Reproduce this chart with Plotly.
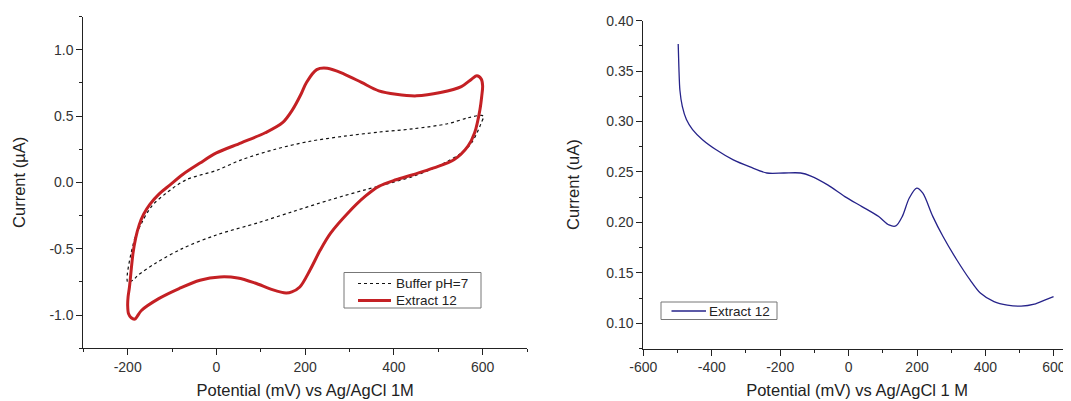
import plotly.graph_objects as go

# ---- Left panel: cyclic voltammograms ----
cv_extract_E = [-196, -188, -182, -174, -164, -150, -130, -105, -76, -37, 0, 56, 110, 149, 172, 190, 203, 226,
                250, 288, 327, 366, 405, 451, 505, 552, 575, 587, 597, 600, 598, 594, 582, 567, 536, 490, 443,
                405, 366, 335, 296, 257, 234, 211, 188, 170, 157, 126, 87, 48, 8, -37, -84, -130, -169, -184,
                -192, -198, -200, -199, -196]
cv_extract_I = [-0.79, -0.535, -0.42, -0.32, -0.24, -0.165, -0.09, -0.02, 0.06, 0.146, 0.222, 0.298, 0.374,
                0.45, 0.55, 0.66, 0.753, 0.85, 0.86, 0.816, 0.753, 0.69, 0.664, 0.652, 0.677, 0.722, 0.778,
                0.803, 0.778, 0.727, 0.65, 0.55, 0.374, 0.273, 0.172, 0.109, 0.058, 0.02, -0.03, -0.106, -0.232,
                -0.384, -0.51, -0.66, -0.788, -0.825, -0.833, -0.808, -0.758, -0.72, -0.712, -0.737, -0.80,
                -0.876, -0.965, -1.03, -1.02, -0.99, -0.927, -0.86, -0.79]

cv_buffer_E = [-200, -185, -169, -146, -115, -68, 0, 56, 133, 211, 288, 366, 443, 521, 567, 598, 602, 597, 591,
               575, 552, 521, 482, 443, 397, 335, 257, 172, 95, 0, -76, -138, -177, -188, -200]
cv_buffer_I = [-0.75, -0.434, -0.31, -0.18, -0.086, 0.02, 0.09, 0.17, 0.25, 0.31, 0.348, 0.379, 0.404, 0.442,
               0.487, 0.505, 0.495, 0.45, 0.40, 0.298, 0.222, 0.159, 0.096, 0.045, 0.0, -0.056, -0.131, -0.22,
               -0.303, -0.396, -0.497, -0.611, -0.70, -0.737, -0.75]

# ---- Right panel: differential pulse voltammogram ----
dpv_E = [-498, -496, -493, -486, -474, -456, -427, -387, -337, -288, -239, -189, -140, -110, -60, -11, 39, 88,
         118, 138, 157, 177, 199, 217, 246, 276, 316, 355, 385, 425, 464, 504, 543, 573, 599]
dpv_I = [0.377, 0.354, 0.331, 0.315, 0.302, 0.292, 0.282, 0.272, 0.262, 0.255, 0.249, 0.249, 0.249, 0.246,
         0.237, 0.2256, 0.2157, 0.2058, 0.1975, 0.1965, 0.206, 0.224, 0.234, 0.229, 0.206, 0.186, 0.163, 0.143,
         0.130, 0.1215, 0.118, 0.117, 0.119, 0.123, 0.1264]

# tick labels (plain hyphen minus, as in the reference)
cv_xticks = [-200, 0, 200, 400, 600]
cv_yticks = [-1.0, -0.5, 0.0, 0.5, 1.0]
dpv_xticks = [-600, -400, -200, 0, 200, 400, 600]
dpv_yticks = [0.10, 0.15, 0.20, 0.25, 0.30, 0.35, 0.40]

# the page body keeps its default 8px margin, so the figure is offset by 8px
OFF = 8
W, H = 1071 - OFF, 401 - OFF
FONT = "Liberation Sans, Arial, sans-serif"
AX = "#222222"
TICKC = "#333333"
RED = "#c42024"
BLUE = "#26238a"


def px(x):
    return (x - OFF) / W


def py(y):
    return 1 - (y - OFF) / H


fig = go.Figure()
fig.add_trace(go.Scatter(x=cv_buffer_E, y=cv_buffer_I, mode="lines", name="Buffer pH=7",
                         line=dict(color="#111111", width=1.2, dash="dot", shape="spline", smoothing=0.9),
                         xaxis="x", yaxis="y", showlegend=False))
fig.add_trace(go.Scatter(x=cv_extract_E, y=cv_extract_I, mode="lines", name="Extract 12",
                         line=dict(color=RED, width=3, shape="spline", smoothing=0.9),
                         xaxis="x", yaxis="y", showlegend=False))
fig.add_trace(go.Scatter(x=dpv_E, y=dpv_I, mode="lines", name="Extract 12",
                         line=dict(color=BLUE, width=1.3, shape="spline", smoothing=0.8),
                         xaxis="x2", yaxis="y2", showlegend=False))


def axis_common():
    return dict(showline=True, linecolor=AX, linewidth=1, ticks="outside", ticklen=6, tickwidth=1,
                tickcolor=AX, showgrid=False, zeroline=False, mirror=False, automargin=False,
                tickfont=dict(family=FONT, size=14, color=TICKC))


def fmt(vals, nd):
    return [f"{v:.{nd}f}" for v in vals]


fig.update_layout(
    template="none",
    width=W, height=H, margin=dict(l=0, r=0, t=0, b=0, autoexpand=False),
    paper_bgcolor="white", plot_bgcolor="white",
    font=dict(family=FONT, color=AX),
    showlegend=False,
    xaxis=dict(**axis_common(), domain=[px(83.3), px(527)], range=[-300, 700],
               tickmode="array", tickvals=cv_xticks, ticktext=fmt(cv_xticks, 0),
               minor=dict(tickmode="linear", tick0=-300, dtick=100, ticklen=3, tickcolor=AX, ticks="outside"),
               title=dict(text="Potential (mV) vs Ag/AgCl 1M", font=dict(family=FONT, size=16.5, color=AX),
                          standoff=10)),
    yaxis=dict(**axis_common(), domain=[py(348.3), py(16.5)], range=[-1.25, 1.25],
               tickmode="array", tickvals=cv_yticks, ticktext=fmt(cv_yticks, 1),
               minor=dict(tickmode="linear", tick0=0, dtick=0.25, ticklen=3, tickcolor=AX, ticks="outside"),
               title=dict(text="Current (µA)", font=dict(family=FONT, size=16.5, color=AX), standoff=19)),
    xaxis2=dict(**axis_common(), domain=[px(643.3), 1.0], range=[-600, 650],
                tickmode="array", tickvals=dpv_xticks, ticktext=fmt(dpv_xticks, 0),
                minor=dict(tickmode="linear", tick0=-500, dtick=100, ticklen=3, tickcolor=AX, ticks="outside"),
                anchor="y2",
                title=dict(text="Potential (mV) vs Ag/AgCl 1 M", font=dict(family=FONT, size=16.5, color=AX),
                           standoff=10)),
    yaxis2=dict(**axis_common(), domain=[py(348.5), py(20.7)], range=[0.075, 0.40],
                tickmode="array", tickvals=dpv_yticks, ticktext=fmt(dpv_yticks, 2), anchor="x2",
                minor=dict(tickmode="linear", tick0=0.025, dtick=0.05, ticklen=3, tickcolor=AX, ticks="outside"),
                title=dict(text="Current (uA)", font=dict(family=FONT, size=16.5, color=AX), standoff=22)),
)

# ---- legend boxes (drawn in paper coordinates) ----
LEG_FONT = dict(family=FONT, size=13.5, color=AX)
legends = [
    # box (x0, y0, x1, y1) in page pixels, then entries: (label, color, width, dash, key y)
    dict(box=(344, 272.5, 481, 308),
         keys=(358, 391), text_x=395,
         entries=[("Buffer pH=7", "#111111", 1.2, "dot", 283.5),
                  ("Extract 12", RED, 3, "solid", 300.5)]),
    dict(box=(661, 302, 777, 319.5),
         keys=(671.5, 706), text_x=707.5,
         entries=[("Extract 12", BLUE, 1.3, "solid", 311)]),
]
for lg in legends:
    x0, y0, x1, y1 = lg["box"]
    fig.add_shape(type="rect", xref="paper", yref="paper", x0=px(x0), x1=px(x1), y0=py(y1), y1=py(y0),
                  line=dict(color="#777777", width=1), fillcolor="white", layer="above")
    for label, color, width, dash, ky in lg["entries"]:
        fig.add_shape(type="line", xref="paper", yref="paper", x0=px(lg["keys"][0]), x1=px(lg["keys"][1]),
                      y0=py(ky), y1=py(ky), line=dict(color=color, width=width, dash=dash), layer="above")
        fig.add_annotation(xref="paper", yref="paper", x=px(lg["text_x"]), y=py(ky), text=label,
                           showarrow=False, xanchor="left", yanchor="middle", font=LEG_FONT,
                           borderpad=0)

fig.write_html("out.html")
